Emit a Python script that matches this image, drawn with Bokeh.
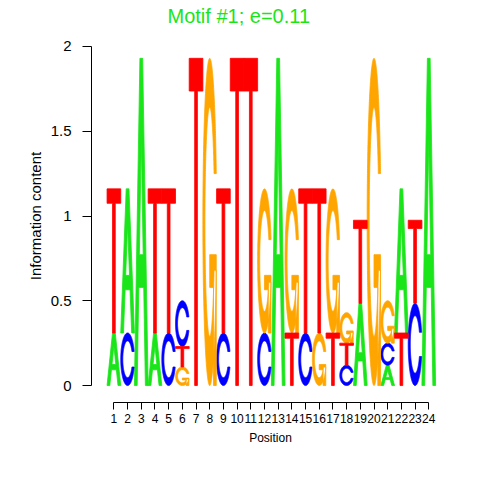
import numpy as np
from bokeh.plotting import figure
from bokeh.models import FixedTicker, CustomJSTickFormatter, Range1d, ColumnDataSource
from bokeh.embed import file_html
from bokeh.resources import INLINE

# ---------------- data ----------------
positions = list(range(1, 25))
tick_labels = [str(i) for i in positions]
y_ticks = [0, 0.5, 1, 1.5, 2]
title_text = "Motif #1; e=0.11"

# information content (bits) contributed by each nucleotide at each position
heights_A = [0.31, 0.85, 1.93, 0.31, 0, 0, 0, 0, 0, 0, 0, 0,
             1.93, 0, 0, 0, 0, 0, 0.485, 0, 0.12, 0.85, 0, 1.93]
heights_C = [0, 0.31, 0, 0, 0.31, 0.27, 0, 0, 0.31, 0, 0, 0.31,
             0, 0, 0.31, 0, 0, 0.12, 0, 0, 0.13, 0, 0.485, 0]
heights_G = [0, 0, 0, 0, 0, 0.11, 0, 1.93, 0, 0, 0, 0.85,
             0, 0.85, 0, 0.31, 0.85, 0.18, 0, 1.93, 0.25, 0, 0, 0]
heights_T = [0.85, 0, 0, 0.85, 0.85, 0.12, 1.93, 0, 0.85, 1.93, 1.93, 0,
             0, 0.31, 0.85, 0.85, 0.31, 0.13, 0.49, 0, 0, 0.31, 0.49, 0]

colors = {"A": "#1AE51A", "C": "#0000FF", "G": "#FFA500", "T": "#FF0000"}

# ---------------- letter shapes (unit box) ----------------
def shape_A():
    ox = np.array([0, 4, 6, 10, 8, 6.8, 3.2, 2, 0]) * 0.1
    oy = np.array([0, 10, 10, 0, 0, 3, 3, 0, 0]) * 0.1
    hx = np.array([3.6, 5, 6.4, 3.6]) * 0.1
    hy = np.array([4, 7.5, 4, 4]) * 0.1
    return [[(ox, oy), (hx, hy)]]

def _c_ring():
    a1 = np.linspace(0.3 + np.pi / 2, np.pi, 100)
    a2 = np.linspace(np.pi, 1.5 * np.pi, 100)
    xl1 = 0.5 + 0.5 * np.sin(a1); yl1 = 0.5 + 0.5 * np.cos(a1)
    xl2 = 0.5 + 0.5 * np.sin(a2); yl2 = 0.5 + 0.5 * np.cos(a2)
    xl = np.concatenate([xl1, xl2]); yl = np.concatenate([yl1, yl2])
    x = np.concatenate([xl, xl[::-1]]); y = np.concatenate([yl, 1 - yl[::-1]])
    xi1 = 0.5 + 0.35 * np.sin(a1); yi1 = 0.5 + 0.35 * np.cos(a1)
    keep = yi1 <= yl1.max()
    xi1 = xi1[keep]; yi1 = yi1[keep].copy(); yi1[0] = yl1.max()
    xi2 = 0.5 + 0.35 * np.sin(a2); yi2 = 0.5 + 0.35 * np.cos(a2)
    xi = np.concatenate([xi1, xi2]); yi = np.concatenate([yi1, yi2])
    x1 = np.concatenate([xi, xi[::-1]]); y1 = np.concatenate([yi, 1 - yi[::-1]])
    x = np.concatenate([x, x1[::-1]]); y = np.concatenate([y, y1[::-1]])
    return x, y, xl1.max()

def shape_C():
    x, y, _ = _c_ring()
    return [[(x, y)]]

def shape_G():
    x, y, r1 = _c_ring()
    h1 = 0.4
    bx = np.array([r1, 0.5, 0.5, r1 - 0.2, r1 - 0.2, r1, r1])
    by = np.array([h1, h1, h1 - 0.1, h1 - 0.1, 0, 0, h1])
    return [[(x, y)], [(bx, by)]]

def shape_T():
    x = np.array([0, 10, 10, 6, 6, 4, 4, 0]) * 0.1
    y = np.array([10, 10, 9, 9, 0, 0, 9, 9]) * 0.1
    return [[(x, y)]]

shapes = {"A": shape_A(), "C": shape_C(), "G": shape_G(), "T": shape_T()}
heights = {"A": heights_A, "C": heights_C, "G": heights_G, "T": heights_T}

# ---------------- figure ----------------
font = "Liberation Sans"
p = figure(width=480, height=480, title=title_text,
           x_range=Range1d(-0.636, 25.515), y_range=Range1d(-0.1, 2.1),
           output_backend="svg", toolbar_location=None,
           min_border_left=91, min_border_right=31,
           min_border_top=28, min_border_bottom=78)
p.outline_line_color = None
p.grid.visible = False
p.background_fill_color = "white"

p.title.align = "left"
p.title.offset = 76
p.title.standoff = 5
p.title.vertical_align = "bottom"
p.title.text_font = font
p.title.text_font_size = "20px"
p.title.text_font_style = "normal"
p.title.text_color = colors["A"]

# build stacked letters (smallest at bottom)
data = {k: {"xs": [], "ys": []} for k in "ACGT"}
for i, pos in enumerate(positions):
    col = [(heights[k][i], k) for k in "ACGT" if heights[k][i] > 0]
    col.sort(key=lambda t: t[0])
    base = 0.0
    for h, k in col:
        polys = []
        for poly in shapes[k]:
            rings = []
            for (ux, uy) in poly:
                rings.append(((pos - 0.5 + ux).tolist(), (base + uy * h).tolist()))
            polys.append(rings)
        data[k]["xs"].append([[r[0] for r in poly] for poly in polys])
        data[k]["ys"].append([[r[1] for r in poly] for poly in polys])
        base += h

for k in "ACGT":
    if data[k]["xs"]:
        src = ColumnDataSource(data[k])
        p.multi_polygons(xs="xs", ys="ys", source=src,
                         fill_color=colors[k], line_color=colors[k], line_width=0.8)

# axes
xa = p.xaxis[0]
xa.ticker = FixedTicker(ticks=positions)
xa.major_label_overrides = {i: s for i, s in zip(positions, tick_labels)}
xa.bounds = (1, 24)
xa.major_tick_out = 7
xa.major_tick_in = 0
xa.minor_tick_out = 0
xa.minor_tick_in = 0
xa.major_label_standoff = 4
xa.major_label_text_font = font
xa.major_label_text_font_size = "12px"
xa.major_label_text_color = "black"
xa.axis_label = "Position"
xa.axis_label_text_font = font
xa.axis_label_text_font_size = "12px"
xa.axis_label_text_font_style = "normal"
xa.axis_label_text_color = "black"
xa.axis_label_standoff = 5
xa.axis_line_color = "black"
xa.major_tick_line_color = "black"

ya = p.yaxis[0]
ya.ticker = FixedTicker(ticks=y_ticks)
ya.formatter = CustomJSTickFormatter(code="return tick.toString();")
ya.bounds = (0, 2)
ya.major_tick_out = 9
ya.major_tick_in = 0
ya.minor_tick_out = 0
ya.minor_tick_in = 0
ya.major_label_standoff = 11
ya.major_label_text_font = font
ya.major_label_text_font_size = "15px"
ya.major_label_text_color = "black"
ya.axis_label = "Information content"
ya.axis_label_text_font = font
ya.axis_label_text_font_size = "15px"
ya.axis_label_text_font_style = "normal"
ya.axis_label_text_color = "black"
ya.axis_label_standoff = 4
ya.axis_line_color = "black"
ya.major_tick_line_color = "black"

open("out.html", "w").write(file_html(p, INLINE))
